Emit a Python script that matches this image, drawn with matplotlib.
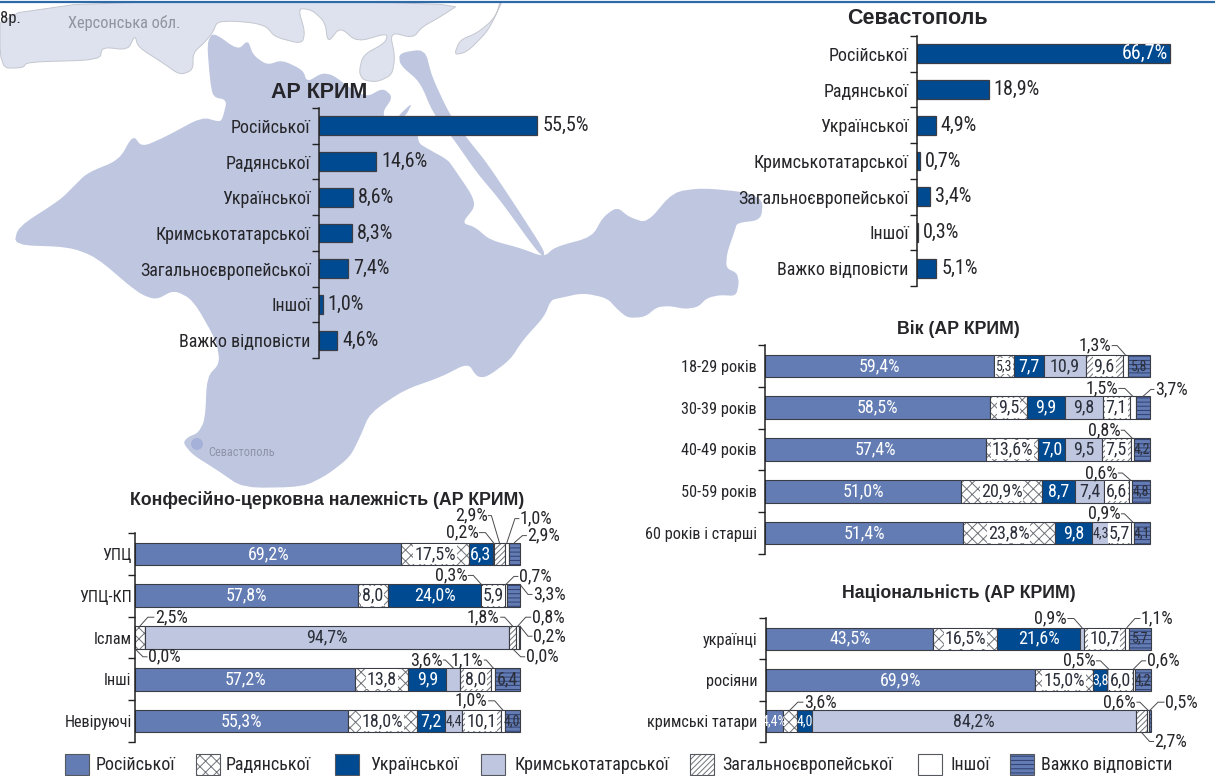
import matplotlib
matplotlib.use("Agg")
import logging
import matplotlib.pyplot as plt
from matplotlib.patches import Polygon, Rectangle, Circle

logging.getLogger('matplotlib.font_manager').setLevel(logging.ERROR)
NARROW = ['Roboto Condensed', 'PT Sans Narrow', 'Liberation Sans Narrow', 'Liberation Sans', 'DejaVu Sans']
BOLD = ['Liberation Sans', 'DejaVu Sans']
plt.rcParams['font.family'] = NARROW
plt.rcParams['hatch.linewidth'] = 0.7

## DATA ##
answers = ['Російської', 'Радянської', 'Української', 'Кримськотатарської',
           'Загальноєвропейської', 'Іншої', 'Важко відповісти']
crimea_vals = [55.5, 14.6, 8.6, 8.3, 7.4, 1.0, 4.6]
sevastopol_vals = [66.7, 18.9, 4.9, 0.7, 3.4, 0.3, 5.1]

age_rows = ['18-29 років', '30-39 років', '40-49 років', '50-59 років', '60 років і старші']
age_vals = [[59.4, 5.3, 7.7, 10.9, 9.6, 1.3, 5.8],
            [58.5, 9.5, 9.9, 9.8, 7.1, 1.5, 3.7],
            [57.4, 13.6, 7.0, 9.5, 7.5, 0.8, 4.2],
            [51.0, 20.9, 8.7, 7.4, 6.6, 0.6, 4.8],
            [51.4, 23.8, 9.8, 4.3, 5.7, 0.9, 4.1]]

church_rows = ['УПЦ', 'УПЦ-КП', 'Іслам', 'Інші', 'Невіруючі']
church_vals = [[69.2, 17.5, 6.3, 0.2, 2.9, 1.0, 2.9],
               [57.8, 8.0, 24.0, 0.3, 5.9, 0.7, 3.3],
               [0.0, 2.5, 0.0, 94.7, 1.8, 0.8, 0.2],
               [57.2, 13.8, 9.9, 3.6, 8.0, 1.1, 6.4],
               [55.3, 18.0, 7.2, 4.4, 10.1, 1.0, 4.0]]

nation_rows = ['українці', 'росіяни', 'кримські татари']
nation_vals = [[43.5, 16.5, 21.6, 0.9, 10.7, 1.1, 5.7],
               [69.9, 15.0, 3.8, 0.5, 6.0, 0.6, 4.2],
               [4.4, 3.6, 4.0, 84.2, 2.7, 0.6, 0.5]]

## STYLES ##
fills = ['#637cb3', 'white', '#004a91', '#bfc7e0', 'white', 'white', '#637cb3']
hatches = [None, 'xxx', None, None, '//////', None, '----']
hatch_cols = ['none', '#6f7278', 'none', 'none', '#6f7278', 'none', '#2f3f70']
edge = '#3a3d45'
ink = '#26262a'

# map outline, in pixels of the picture
land = [(213, 32), (238, 50), (248, 40), (253, 55), (267, 65), (282, 60), (303, 70), (307, 82), (322, 73),
        (333, 75), (350, 88), (367, 97), (383, 88), (393, 97), (382, 113), (390, 125), (418, 125), (418, 143),
        (430, 150), (448, 160), (455, 170), (472, 195), (475, 207), (462, 223), (475, 227), (490, 240),
        (520, 248), (544, 257), (555, 247), (592, 237), (603, 217), (617, 207), (629, 217), (647, 223),
        (673, 192), (702, 188), (745, 192), (763, 200), (761, 220), (737, 223), (735, 230), (727, 253),
        (726, 268), (737, 273), (739, 283), (736, 296), (720, 295), (707, 298), (698, 307), (685, 309),
        (670, 306), (657, 307), (645, 317), (628, 318), (618, 310), (607, 298), (583, 293), (560, 298),
        (551, 300), (544, 317), (523, 340), (510, 360), (487, 377), (477, 377), (468, 363), (441, 377),
        (404, 390), (370, 413), (360, 437), (350, 457), (327, 475), (303, 487), (243, 488), (217, 470),
        (193, 455), (183, 443), (188, 437), (198, 433), (205, 420), (207, 377), (220, 363), (216, 340),
        (193, 300), (174, 290), (156, 300), (138, 293), (96, 257), (69, 247), (14, 245), (18, 227), (60, 200),
        (73, 187), (87, 173), (119, 160), (133, 135), (142, 147), (165, 137), (202, 117), (220, 122),
        (223, 117), (227, 100), (213, 97), (210, 80), (207, 43)]
spit = [(399, 53), (425, 49), (432, 77), (450, 115), (466, 137), (487, 163), (515, 205), (544, 250), (544, 257),
        (536, 250), (500, 200), (477, 173), (452, 137), (433, 113), (420, 82), (400, 65)]
islet = [(397, 117), (413, 102), (405, 117)]
kherson = [(0, 2), (463, 2), (440, 17), (422, 27), (413, 38), (390, 32), (395, 57), (392, 75), (377, 82), (363, 80),
           (359, 72), (363, 55), (385, 43), (388, 33), (357, 42), (340, 27), (328, 43), (325, 22), (312, 10),
           (298, 8), (305, 32), (302, 44), (275, 37), (267, 27), (255, 23), (232, 21), (217, 22), (213, 32),
           (205, 42), (193, 53), (193, 70), (180, 75), (163, 63), (138, 47), (135, 35), (128, 50), (102, 47),
           (100, 60), (27, 62), (23, 68), (0, 68)]
sliver = [(502, 2), (493, 20), (477, 33), (460, 40), (454, 55), (467, 52), (487, 32), (497, 13), (500, 2)]

fig = plt.figure(figsize=(12.15, 7.76), dpi=100)
W, H = 1215, 776


def overlay(z):
    a = fig.add_axes([0, 0, 1, 1], zorder=z)
    a.set_xlim(0, W)
    a.set_ylim(H, 0)
    a.axis('off')
    return a


def soften(pts, n=2):
    # cut the corners of a coast outline
    for _ in range(n):
        out = []
        for k, (x0, y0) in enumerate(pts):
            x1, y1 = pts[(k + 1) % len(pts)]
            out.append((0.8 * x0 + 0.2 * x1, 0.8 * y0 + 0.2 * y1))
            out.append((0.2 * x0 + 0.8 * x1, 0.2 * y0 + 0.8 * y1))
        pts = out
    return pts


bg = overlay(0)
fg = overlay(5)

## MAP ##
for pts in [kherson, sliver]:
    bg.add_patch(Polygon(soften(pts), fc='#dde2ee', ec='#c4c7cf', lw=0.7))
for pts in [land, spit, islet]:
    bg.add_patch(Polygon(soften(pts), fc='#bfc7e0', ec='none'))
bg.add_patch(Rectangle((0, 0), 540, 3, fc='white', ec='none'))
bg.add_patch(Circle((197, 444), 6, fc='#a5b1d8', ec='none'))
bg.plot([0, W], [1.5, 1.5], color='#2f6aa8', lw=1.6)
bg.text(0, 19, '8р.', fontsize=12, color=ink, va='center')
bg.text(68, 23, 'Херсонська обл.', fontsize=11.8, color='#8f949e', va='center')
bg.text(208, 452, 'Севастополь', fontsize=8.8, color='#8e93a8', va='center')


def make_axes(left, right, top, bottom, xmax, rows, size=13, pad=6):
    # pixel box of the chart -> axes, y axis counts the rows down
    ax = fig.add_axes([left / W, 1 - bottom / H, (right - left) / W, (bottom - top) / H], zorder=2)
    ax.patch.set_alpha(0)
    ax.set_xlim(0, xmax)
    ax.set_ylim(len(rows) - 0.5, -0.5)
    for s in ['top', 'right', 'bottom']:
        ax.spines[s].set_visible(False)
    ax.spines['left'].set_color('#222222')
    ax.spines['left'].set_linewidth(1.1)
    ax.xaxis.set_visible(False)
    ax.set_yticks(range(len(rows)), rows)
    ax.tick_params(axis='y', which='major', length=0, pad=pad, labelsize=size, labelcolor=ink)
    ax.set_yticks([i - 0.5 for i in range(len(rows) + 1)], minor=True)
    ax.tick_params(axis='y', which='minor', length=5, width=1, color='#222222', left=True)
    return ax


def simple_chart(left, right, top, bottom, xmax, vals, inside=None):
    ax = make_axes(left, right, top, bottom, xmax, answers)
    ax.barh(range(len(vals)), vals, height=0.53, color='#004a91', edgecolor=edge, linewidth=0.9)
    for i, v in enumerate(vals):
        txt = f'{v:.1f}%'.replace('.', ',')
        if i == inside:
            ax.annotate(txt, (v, i), xytext=(-1, 0), textcoords='offset points', ha='right', va='center',
                        fontsize=14.5, color='white')
        else:
            ax.annotate(txt, (v, i), xytext=(3.5, 0), textcoords='offset points', ha='left', va='center',
                        fontsize=14.5, color=ink)
    return ax


def callout(ax, vals, item):
    row, seg, dx, dy, at, aseg = item
    rowv = vals[row]
    s = aseg if aseg is not None else seg
    x = sum(rowv[:s]) + rowv[s] / 2
    off = 0.27 if at != 'bottom' else -0.27
    px, py = ax.transData.transform((x if at != 'right' else 100, row - off))
    px, py = px * W / fig.bbox.width, H - py * H / fig.bbox.height
    tx, ty = px + dx, py + dy
    sign = 1 if dx > 0 else -1
    fg.plot([tx - sign, px + sign * min(8, abs(dx) - 3), px], [ty, ty, py], color='#4a4a4f', lw=0.7)
    fg.text(tx, ty, f'{rowv[seg]:.1f}%'.replace('.', ','), ha='left' if dx > 0 else 'right', va='center',
            fontsize=13, color=ink)


def stacked_chart(left, right, top, bottom, rows, vals, callouts, no_pct=(), pad=6):
    ax = make_axes(left, right, top, bottom, 100, rows, size=11.7, pad=pad)
    outside = {(c[0], c[1]) for c in callouts}
    for j in range(7):
        base = [sum(r[:j]) for r in vals]
        width = [r[j] for r in vals]
        ax.barh(range(len(rows)), width, left=base, height=0.54, color=fills[j], edgecolor=hatch_cols[j],
                hatch=hatches[j], linewidth=0, clip_on=False)
        ax.barh(range(len(rows)), width, left=base, height=0.54, fill=False, edgecolor=edge, linewidth=0.8,
                clip_on=False)
        for i, v in enumerate(width):
            if (i, j) in outside:
                continue
            txt = f'{v:.1f}'.replace('.', ',')
            if j == 0 or (v >= 13 and (i, j) not in no_pct):
                txt += '%'
            col = 'white' if j in (0, 2) else '#2b2f3a'
            box = dict(fc='white', ec='none', pad=0.6) if j in (1, 4) else None
            size = 10 if v < 5.5 else 13
            if j == 6 and v < 5.9:
                size = 10
            ax.text(base[i] + v / 2, i, txt, ha='center', va='center', fontsize=size, color=col, bbox=box)
    for c in callouts:
        callout(ax, vals, c)
    return ax


## BAR CHARTS ##
simple_chart(319, 555, 108, 358, 60, crimea_vals)
simple_chart(917, 1182, 36, 286, 70, sevastopol_vals, inside=0)

# row, segment, text offset x, y in pixels, where it touches the bar, other segment to touch
age_notes = [(0, 5, -14, -9, 'top', None), (1, 5, -15, -8, 'top', None), (1, 6, 12, -7, 'top', None),
             (2, 5, -12, -8, 'top', None), (3, 5, -13, -7, 'top', None), (4, 5, -12, -8, 'top', None)]
church_notes = [(0, 3, -15, -10, 'top', None), (0, 4, -12, -27, 'top', None), (0, 5, 13, -24, 'top', None),
                (0, 6, 13, -7, 'top', None), (1, 3, -14, -9, 'top', None), (1, 5, 13, -8, 'top', None),
                (1, 6, 13, 10, 'right', None), (2, 1, 15, -9, 'top', None), (2, 0, 13, 8, 'bottom', None),
                (2, 4, -13, -9, 'top', None), (2, 5, 14, -9, 'top', None), (2, 6, 13, 10, 'right', None),
                (2, 2, 13, 8, 'bottom', 4), (3, 3, -11, -8, 'top', None), (3, 5, -10, -8, 'top', None),
                (4, 5, -15, -9, 'top', None)]
nation_notes = [(0, 3, -15, -9, 'top', None), (0, 5, 14, -9, 'top', None), (1, 3, -13, -8, 'top', None),
                (1, 5, 13, -8, 'top', None), (2, 1, 14, -8, 'top', None), (2, 5, -12, -8, 'top', None),
                (2, 6, 15, -8, 'top', None), (2, 4, 13, 9, 'bottom', None)]

stacked_chart(765, 1150, 345, 554, age_rows, age_vals, age_notes)
stacked_chart(135, 520, 533, 742, church_rows, church_vals, church_notes, no_pct=[(3, 1)], pad=2.5)
stacked_chart(766, 1151, 618, 742, nation_rows, nation_vals, nation_notes)

## TITLES ##
fg.text(917.5, 19, 'Севастополь', family=BOLD, weight='bold', fontsize=15.5, color=ink, ha='center', va='center')
fg.text(319, 93, 'АР КРИМ', family=BOLD, weight='bold', fontsize=15.5, color=ink, ha='center', va='center')
fg.text(958, 329, 'Вік (АР КРИМ)', family=BOLD, weight='bold', fontsize=12.8, color=ink, ha='center', va='center')
fg.text(327, 500, 'Конфесійно-церковна належність (АР КРИМ)', family=BOLD, weight='bold', fontsize=12.8, color=ink,
        ha='center', va='center')
fg.text(959, 593, 'Національність (АР КРИМ)', family=BOLD, weight='bold', fontsize=12.8, color=ink, ha='center',
        va='center')

## LEGEND ##
swatch_x = [65, 196, 335, 481, 690, 918, 1010]
label_x = [96, 226, 370, 515, 722, 951, 1041]
for j, name in enumerate(answers):
    fg.add_patch(Rectangle((swatch_x[j], 754), 24, 21, fc=fills[j], ec=hatch_cols[j], hatch=hatches[j], lw=0))
    fg.add_patch(Rectangle((swatch_x[j], 754), 24, 21, fill=False, ec='#55585f', lw=0.8))
    fg.text(label_x[j], 765, name, fontsize=13, color=ink, va='center')

fig.savefig('out.png', dpi=100)
